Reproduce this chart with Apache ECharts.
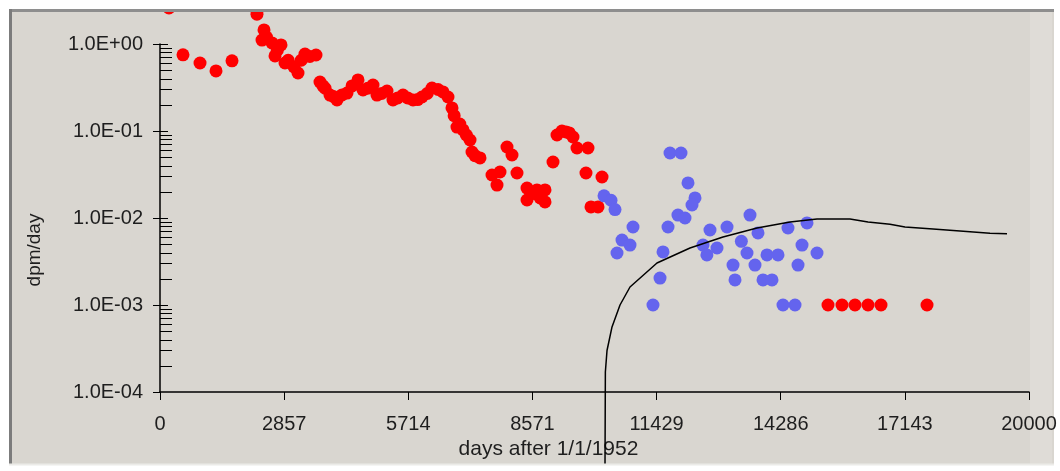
<!DOCTYPE html>
<html><head><meta charset="utf-8">
<script src="https://cdn.jsdelivr.net/npm/echarts@6/dist/echarts.min.js"></script>
<style>html,body{margin:0;padding:0;background:#fff}#c{width:1060px;height:471px}</style>
</head><body><div id="c"></div>
<script>
// x tick labels (days after 1/1/1952)
const xTickLabels = ['0','2857','5714','8571','11429','14286','17143','20000'];
// y tick labels (log scale)
const yTickLabels = ['1.0E-04','1.0E-03','1.0E-02','1.0E-01','1.0E+00'];
// minor tick values of the log axis
const yMinorTicks = [2e-4,3e-4,4e-4,5e-4,6e-4,7e-4,8e-4,9e-4,
  2e-3,3e-3,4e-3,5e-3,6e-3,7e-3,8e-3,9e-3,
  2e-2,3e-2,4e-2,5e-2,6e-2,7e-2,8e-2,9e-2,
  0.2,0.3,0.4,0.5,0.6,0.7,0.8,0.9];
const yMajorTicks = [1e-3,1e-2,1e-1,1];

// red measurements [day, dpm/day]
const redPoints = [
  [207,2.6],
  [529,0.75],[921,0.605],[1289,0.49],[1657,0.64],
  [2232,2.2],[2394,1.45],[2348,1.11],[2450,1.2],[2578,1.03],[2785,0.975],[2647,0.73],[2700,0.85],[2877,0.605],[2950,0.65],[3084,0.544],[3176,0.464],[3250,0.65],[3337,0.767],[3450,0.72],[3590,0.747],
  [3682,0.366],[3750,0.33],[3800,0.31],[3913,0.259],[3990,0.25],[4074,0.227],[4190,0.26],[4304,0.273],[4420,0.33],[4557,0.386],[4672,0.296],[4780,0.31],[4902,0.338],[4994,0.259],[5100,0.27],[5224,0.288],[5362,0.227],[5470,0.24],[5593,0.259],[5700,0.24],[5823,0.227],[5930,0.23],[6030,0.246],[6150,0.27],[6260,0.312],[6400,0.3],[6513,0.281],[6628,0.246],[6720,0.184],[6770,0.15],
  [6835,0.111],[6900,0.12],[6974,0.103],[7050,0.09],[7135,0.0788],[7181,0.0574],[7250,0.052],[7365,0.049],[7641,0.0312],[7756,0.0239],[7825,0.0338],[7986,0.0655],[8101,0.053],[8216,0.0329],[8447,0.0221],[8447,0.0161],[8560,0.019],[8677,0.021],[8750,0.017],[8861,0.021],[8861,0.0153],[9045,0.044],[9137,0.09],[9250,0.1],[9344,0.0975],[9420,0.095],[9505,0.0853],[9597,0.0638],[9850,0.0638],[9804,0.0329],[10173,0.0296],[9919,0.0134],[10081,0.0134],
  [15374,0.001],[15696,0.001],[15995,0.001],[16295,0.001],[16594,0.001],[17653,0.001]
];
// blue measurements [day, dpm/day]
const bluePoints = [
  [10219,0.018],[10380,0.016],[10472,0.0125],
  [10886,0.00788],[10633,0.00558],[10817,0.00489],[10518,0.00396],
  [11577,0.00407],[11508,0.00204],[11346,0.001],
  [11738,0.0559],[11991,0.0559],
  [12152,0.0253],[12313,0.017],[12244,0.0141],
  [11921,0.0108],[12083,0.01],[11692,0.00788],
  [12658,0.00728],[13050,0.00788],
  [12497,0.00489],[12819,0.00452],[12587,0.00376],
  [13380,0.0054],[13763,0.00673],[13579,0.0108],[13510,0.00396],
  [13970,0.00376],[14223,0.00376],
  [14453,0.00767],[14891,0.00877],[14776,0.00489],[15121,0.00396],
  [14684,0.00288],[13188,0.00288],[13694,0.00288],
  [13234,0.00194],[13878,0.00194],[14085,0.00194],
  [14338,0.001],[14615,0.001]
];
// model curve [day, dpm/day]
const curvePoints = [
  [10242,1.45e-5],[10250,1.7e-4],[10288,3.0e-4],[10403,5.6e-4],[10587,1.0e-3],[10817,1.61e-3],
  [11438,3.04e-3],[12198,4.52e-3],[12957,6.05e-3],[13740,7.68e-3],[14499,9.0e-3],[15121,9.75e-3],
  [15880,9.75e-3],[16295,9.0e-3],[16801,8.5e-3],[17146,7.88e-3],[17791,7.48e-3],[18412,7.1e-3],
  [19102,6.7e-3],[19494,6.6e-3]
];

const FONT = 'Liberation Sans';
const chart = echarts.init(document.getElementById('c'), null, {renderer: 'canvas'});

function tickRender(len) {
  return function (params, api) {
    const p = api.coord([0, api.value(1)]);
    const y = Math.round(p[1]) + 0.5;
    return {type: 'line', shape: {x1: p[0], y1: y, x2: p[0] + len, y2: y},
      style: {stroke: '#000', lineWidth: 1}};
  };
}

chart.setOption({
  animation: false,
  backgroundColor: '#ffffff',
  graphic: [
    {type: 'rect', z: -5, shape: {x: 9, y: 9, width: 1045, height: 456}, style: {fill: '#d9d6d0'}},
    {type: 'rect', z: -4, shape: {x: 1030, y: 12, width: 22, height: 452}, style: {fill: '#dfdcd7'}},
    {type: 'rect', z: 100, shape: {x: 0, y: 0, width: 1060, height: 9}, style: {fill: '#ffffff'}},
    {type: 'line', z: 101, shape: {x1: 9, y1: 10.5, x2: 1054, y2: 10.5}, style: {stroke: '#8e8e8e', lineWidth: 3}},
    {type: 'line', z: 101, shape: {x1: 10.5, y1: 9, x2: 10.5, y2: 465}, style: {stroke: '#7c7c7c', lineWidth: 3}},
    {type: 'line', z: 101, shape: {x1: 9, y1: 464.5, x2: 1054, y2: 464.5}, style: {stroke: '#ecebe8', lineWidth: 2}}
  ],
  grid: {left: 160, right: 31, top: 44, bottom: 79, containLabel: false},
  xAxis: {
    type: 'value', min: 0, max: 20000, interval: 20000 / 7,
    name: 'days after 1/1/1952', nameLocation: 'middle', nameGap: 47,
    nameTextStyle: {fontFamily: FONT, fontSize: 21, color: '#1e1e1e', padding: [0, 92, 0, 0]},
    axisLine: {lineStyle: {color: '#000', width: 1.5}},
    axisTick: {show: true, length: 8, lineStyle: {color: '#000', width: 1}},
    axisLabel: {margin: 22, fontFamily: FONT, fontSize: 20, color: '#1e1e1e',
      formatter: (v, i) => xTickLabels[i] ?? ''},
    splitLine: {show: false}
  },
  yAxis: {
    type: 'log', logBase: 10, min: 1e-4, max: 1,
    name: 'dpm/day', nameLocation: 'middle', nameGap: 116, nameRotate: 90,
    nameTextStyle: {fontFamily: FONT, fontSize: 19, color: '#1e1e1e', padding: [0, 64, 0, 0]},
    axisLine: {show: true, lineStyle: {color: '#000', width: 1.5}},
    axisTick: {show: true, length: 7, lineStyle: {color: '#000', width: 1}},
    axisLabel: {margin: 17, fontFamily: FONT, fontSize: 20, color: '#1e1e1e',
      formatter: (v, i) => yTickLabels[i] ?? ''},
    splitLine: {show: false}
  },
  series: [
    {type: 'custom', coordinateSystem: 'cartesian2d', silent: true, clip: false, z: 5,
      data: yMinorTicks.map(v => [0, v]), renderItem: tickRender(12)},
    {type: 'custom', coordinateSystem: 'cartesian2d', silent: true, clip: false, z: 5,
      data: yMajorTicks.map(v => [0, v]), renderItem: tickRender(8)},
    {type: 'scatter', name: 'red', data: redPoints, symbol: 'circle', symbolSize: 13,
      clip: false, itemStyle: {color: '#ff0000', opacity: 1}, z: 3},
    {type: 'scatter', name: 'blue', data: bluePoints, symbol: 'circle', symbolSize: 13,
      clip: false, itemStyle: {color: '#6464ee', opacity: 1}, z: 3},
    {type: 'line', name: 'model', data: curvePoints, showSymbol: false, clip: false,
      lineStyle: {color: '#000', width: 1.5}, itemStyle: {color: '#000'}, z: 4}
  ]
});
</script>
</body></html>
